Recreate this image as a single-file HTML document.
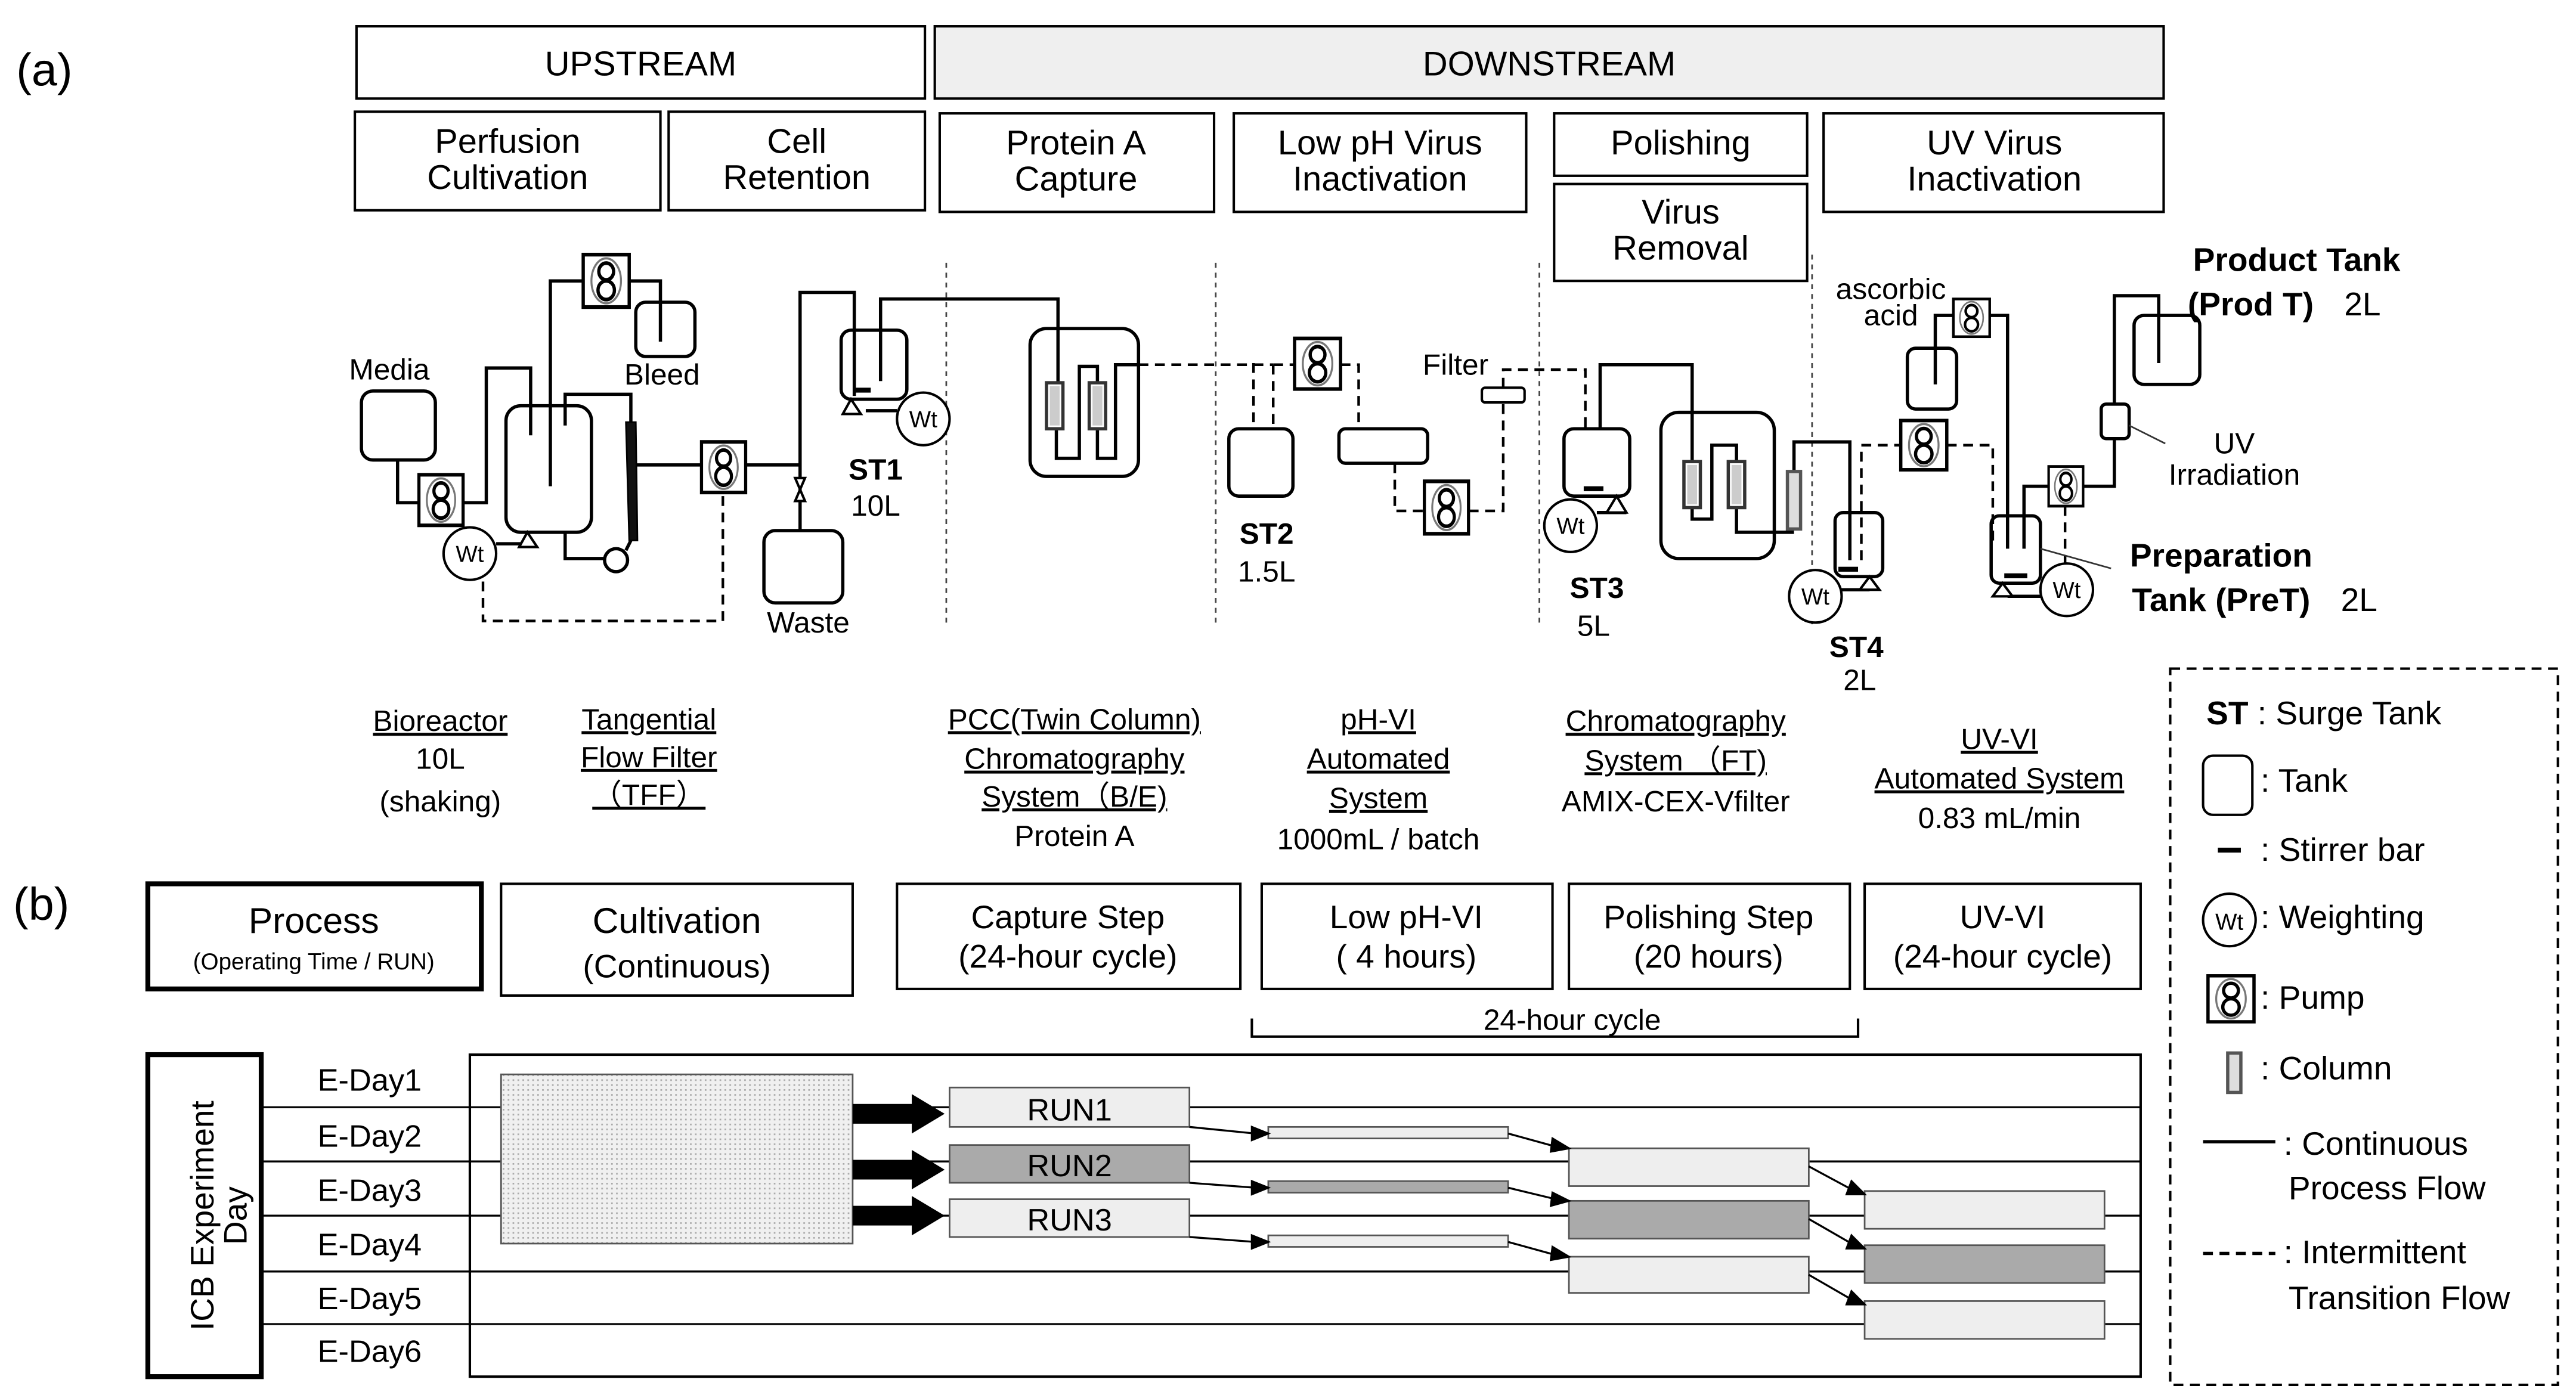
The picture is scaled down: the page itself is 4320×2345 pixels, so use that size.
<!DOCTYPE html>
<html><head><meta charset="utf-8"><style>html,body{margin:0;padding:0;background:#fff}svg{display:block}</style></head>
<body>
<svg width="4320" height="2345" viewBox="0 0 1568 851" preserveAspectRatio="none" xmlns="http://www.w3.org/2000/svg" font-family="Liberation Sans, Arial, sans-serif">
<defs>
<pattern id="dots" width="3" height="3" patternUnits="userSpaceOnUse"><rect width="3" height="3" fill="#f0f0f0"/><rect width="1" height="1" fill="#aaa"/></pattern>
<g id="pump"><rect x="0" y="0" width="28" height="28" fill="#fff" stroke="#000" stroke-width="2"/><ellipse cx="14" cy="14" rx="9" ry="12" fill="none" stroke="#777" stroke-width="1.2"/><circle cx="14" cy="9" r="4.5" fill="none" stroke="#000" stroke-width="2"/><circle cx="14" cy="19" r="5" fill="none" stroke="#000" stroke-width="2"/></g>
<g id="wt"><circle cx="0" cy="0" r="16" fill="#fff" stroke="#000" stroke-width="1.5"/><text x="0" y="5" font-size="14" text-anchor="middle">Wt</text></g>
<g id="col"><rect x="0" y="0" width="10" height="28" fill="#fff" stroke="#333" stroke-width="2"/><rect x="2" y="2" width="6" height="24" fill="#ccc"/></g>
</defs>
<rect width="1568" height="851" fill="#fff"/>
<g fill="none" stroke="#000" stroke-width="1.5">
<rect x="217" y="16" width="346" height="44"/>
<rect x="569" y="16" width="748" height="44" fill="#efefef"/>
<rect x="216" y="68" width="186" height="60"/>
<rect x="407" y="68" width="156" height="60"/>
<rect x="572" y="69" width="167" height="60"/>
<rect x="751" y="69" width="178" height="60"/>
<rect x="946" y="69" width="154" height="38"/>
<rect x="946" y="112" width="154" height="59"/>
<rect x="1110" y="69" width="207" height="60"/>
</g>
<g font-size="21" text-anchor="middle">
<text x="27" y="52" font-size="28">(a)</text>
<text x="390" y="46">UPSTREAM</text>
<text x="943" y="46">DOWNSTREAM</text>
<text x="309" y="93">Perfusion</text><text x="309" y="115">Cultivation</text>
<text x="485" y="93">Cell</text><text x="485" y="115">Retention</text>
<text x="655" y="94">Protein A</text><text x="655" y="116">Capture</text>
<text x="840" y="94">Low pH Virus</text><text x="840" y="116">Inactivation</text>
<text x="1023" y="94">Polishing</text>
<text x="1023" y="136">Virus</text><text x="1023" y="158">Removal</text>
<text x="1214" y="94">UV Virus</text><text x="1214" y="116">Inactivation</text>
</g>
<g stroke="#444" stroke-width="1" stroke-dasharray="3,3">
<line x1="576" y1="160" x2="576" y2="380"/><line x1="740" y1="160" x2="740" y2="380"/>
<line x1="937" y1="160" x2="937" y2="380"/><line x1="1103" y1="155" x2="1103" y2="380"/>
</g>
<!-- solid process lines -->
<g fill="none" stroke="#000" stroke-width="2">
<rect x="220" y="238" width="45" height="42" rx="7"/>
<rect x="308" y="247" width="52" height="77" rx="9"/>
<rect x="387" y="184" width="36" height="33" rx="6"/>
<rect x="465" y="323" width="48" height="44" rx="7"/>
<rect x="512" y="201" width="40" height="42" rx="6"/>
<rect x="627" y="200" width="66" height="90" rx="10"/>
<rect x="748" y="261" width="39" height="41" rx="6"/>
<rect x="815" y="261" width="54" height="21" rx="4"/>
<rect x="952" y="261" width="40" height="41" rx="6"/>
<rect x="1011" y="251" width="69" height="89" rx="11"/>
<rect x="1117" y="312" width="29" height="39" rx="5"/>
<rect x="1161" y="212" width="30" height="37" rx="5"/>
<rect x="1299" y="192" width="40" height="42" rx="6"/>
<rect x="1279" y="246" width="17" height="21" rx="3"/>
<rect x="1212" y="314" width="30" height="41" rx="5"/>
<polyline points="242,280 242,306 255,306"/>
<polyline points="282,306 296,306 296,224 323,224 323,265"/>
<polyline points="335,296 335,171 355,171"/><polyline points="383,171 402,171 402,208"/>
<polyline points="344,259 344,240 384,240 384,257"/>
<polyline points="344,324 344,340 368,340"/>
<line x1="384" y1="329" x2="381" y2="335"/>
<line x1="302" y1="331" x2="321" y2="331"/>
<line x1="387" y1="283" x2="427" y2="283"/><line x1="454" y1="283" x2="487" y2="283"/>
<polyline points="487,323 487,178 520,178 520,241"/>
<polyline points="536,232 536,182 644,182 644,233"/>
<line x1="527" y1="250" x2="546" y2="250"/>
<polyline points="643,262 643,279 657,279 657,223 668,223 668,233"/>
<polyline points="668,262 668,279 679,279 679,222 693,222"/>
<polyline points="974,261 974,222 1030,222 1030,281"/>
<polyline points="1030,303 1030,316 1042,316 1042,271 1057,271 1057,281"/>
<polyline points="1057,303 1057,324 1092,324"/>
<polyline points="1092,287 1092,269 1126,269 1126,341"/>
<line x1="972" y1="312" x2="990" y2="312"/>
<line x1="1121" y1="359" x2="1138" y2="359"/>
<line x1="1222" y1="363" x2="1242" y2="363"/>
<polyline points="1178,234 1178,192 1189,192"/><polyline points="1211,192 1222,192 1222,334"/>
<polyline points="1232,334 1232,296 1247,296"/><polyline points="1268,296 1287,296 1287,267"/>
<polyline points="1287,246 1287,180 1314,180 1314,221"/>
</g>
<polygon points="381,257 387,257 388,329 383,329" fill="#111" stroke="#000"/>
<circle cx="375" cy="341" r="7" fill="#fff" stroke="#000" stroke-width="2"/>
<rect x="1088" y="287" width="8" height="35" fill="#ddd" stroke="#555" stroke-width="2"/>
<g stroke="#000" stroke-width="1.5" fill="#fff">
<polygon points="321,324 316,333 327,333"/><polygon points="518,243 513,252 524,252"/>
<polygon points="984,302 978,312 990,312"/><polygon points="1138,351 1132,359 1144,359"/>
<polygon points="1219,355 1213,363 1225,363"/>
<polygon points="484,291 490,291 487,298"/><polygon points="484,305 490,305 487,298"/>
<rect x="902" y="236" width="26" height="9" rx="2"/>
</g>
<g fill="#000"><rect x="520" y="236" width="10" height="3"/><rect x="964" y="296" width="12" height="3"/><rect x="1119" y="345" width="12" height="3"/><rect x="1220" y="349" width="14" height="3"/></g>
<g fill="none" stroke="#000" stroke-width="1.6" stroke-dasharray="6,4">
<polyline points="294,354 294,378 440,378 440,300"/>
<line x1="693" y1="222" x2="775" y2="222"/>
<polyline points="763,221 763,261"/><polyline points="775,222 775,261"/>
<polyline points="775,222 788,222"/>
<polyline points="816,222 827,222 827,261"/>
<polyline points="849,282 849,311 867,311"/><polyline points="894,311 915,311 915,245"/>
<polyline points="915,236 915,225 965,225 965,261"/>
<polyline points="1133,341 1133,271 1157,271"/><polyline points="1185,271 1213,271 1213,330"/>
<polyline points="1257,308 1257,343"/>
</g>
<use href="#pump" transform="translate(255,289) scale(0.96,1.1)"/>
<use href="#pump" transform="translate(355,155) scale(1,1.14)"/>
<use href="#pump" transform="translate(427,269) scale(0.96,1.1)"/>
<use href="#pump" transform="translate(788,206) scale(1,1.1)"/>
<use href="#pump" transform="translate(867,293) scale(0.96,1.14)"/>
<use href="#pump" transform="translate(1189,182) scale(0.79,0.82)"/>
<use href="#pump" transform="translate(1157,256) scale(1,1.07)"/>
<use href="#pump" transform="translate(1247,284) scale(0.75,0.86)"/>
<use href="#col" x="637" y="233"/><use href="#col" x="663" y="233"/>
<use href="#col" x="1025" y="281" transform="translate(0,0)"/><use href="#col" x="1052" y="281"/>
<use href="#wt" x="286" y="337"/><use href="#wt" x="562" y="255"/><use href="#wt" x="956" y="320"/><use href="#wt" x="1105" y="363"/><use href="#wt" x="1258" y="359"/>
<line x1="1296" y1="259" x2="1318" y2="270" stroke="#333"/>
<line x1="1242" y1="334" x2="1285" y2="346" stroke="#333"/>
<g font-size="18" text-anchor="middle">
<text x="237" y="231">Media</text><text x="403" y="234">Bleed</text><text x="492" y="385">Waste</text>
<text x="533" y="292" font-weight="bold">ST1</text><text x="533" y="314">10L</text>
<text x="771" y="331" font-weight="bold">ST2</text><text x="771" y="354">1.5L</text>
<text x="886" y="228">Filter</text>
<text x="972" y="364" font-weight="bold">ST3</text><text x="970" y="387">5L</text>
<text x="1130" y="400" font-weight="bold">ST4</text><text x="1132" y="420">2L</text>
<text x="1151" y="182">ascorbic</text><text x="1151" y="198">acid</text>
<text x="1360" y="276">UV</text><text x="1360" y="295">Irradiation</text>
<text x="1398" y="165" font-weight="bold" font-size="20">Product Tank</text>
<text x="1370" y="192" font-weight="bold" font-size="20">(Prod T)</text><text x="1438" y="192" font-size="20">2L</text>
<text x="1352" y="345" font-weight="bold" font-size="20">Preparation</text>
<text x="1352" y="372" font-weight="bold" font-size="20">Tank (PreT)</text><text x="1436" y="372" font-size="20">2L</text>
</g>
<g font-size="18" text-anchor="middle">
<text x="268" y="445" text-decoration="underline">Bioreactor</text><text x="268" y="468">10L</text><text x="268" y="494">(shaking)</text>
<text x="395" y="444" text-decoration="underline">Tangential</text><text x="395" y="467" text-decoration="underline">Flow Filter</text><text x="395" y="490" text-decoration="underline">（TFF）</text>
<text x="654" y="444" text-decoration="underline">PCC(Twin Column)</text><text x="654" y="468" text-decoration="underline">Chromatography</text><text x="654" y="491" text-decoration="underline">System（B/E)</text><text x="654" y="515">Protein A</text>
<text x="839" y="444" text-decoration="underline">pH-VI</text><text x="839" y="468" text-decoration="underline">Automated</text><text x="839" y="492" text-decoration="underline">System</text><text x="839" y="517">1000mL / batch</text>
<text x="1020" y="445" text-decoration="underline">Chromatography</text><text x="1020" y="469" text-decoration="underline">System （FT)</text><text x="1020" y="494">AMIX-CEX-Vfilter</text>
<text x="1217" y="456" text-decoration="underline">UV-VI</text><text x="1217" y="480" text-decoration="underline">Automated System</text><text x="1217" y="504">0.83 mL/min</text>
</g>
<rect x="1321" y="407" width="236" height="436" fill="none" stroke="#000" stroke-width="1.5" stroke-dasharray="6,4"/>
<g font-size="20">
<text x="1343" y="441"><tspan font-weight="bold">ST</tspan> : Surge Tank</text>
<rect x="1341" y="460" width="30" height="36" rx="6" fill="none" stroke="#000" stroke-width="1.5"/><text x="1376" y="482">: Tank</text>
<rect x="1350" y="516" width="14" height="3" fill="#000"/><text x="1376" y="524">: Stirrer bar</text>
<circle cx="1357" cy="560" r="16" fill="none" stroke="#000" stroke-width="1.5"/><text x="1357" y="566" font-size="14" text-anchor="middle">Wt</text><text x="1376" y="565">: Weighting</text>
<use href="#pump" x="1344" y="594"/><text x="1376" y="614">: Pump</text>
<rect x="1356" y="641" width="8" height="24" fill="#ddd" stroke="#555" stroke-width="2"/><text x="1376" y="657">: Column</text>
<line x1="1341" y1="695" x2="1385" y2="695" stroke="#000" stroke-width="2"/><text x="1390" y="703">: Continuous</text><text x="1393" y="730">Process Flow</text>
<line x1="1341" y1="763" x2="1385" y2="763" stroke="#000" stroke-width="2" stroke-dasharray="6,4"/><text x="1390" y="769">: Intermittent</text><text x="1393" y="797">Transition Flow</text>
</g>
<text x="8" y="560" font-size="28">(b)</text>
<g fill="none" stroke="#000" stroke-width="1.5">
<rect x="90" y="538" width="203" height="64" stroke-width="3"/>
<rect x="305" y="538" width="214" height="68"/>
<rect x="546" y="538" width="209" height="64"/>
<rect x="768" y="538" width="177" height="64"/>
<rect x="955" y="538" width="171" height="64"/>
<rect x="1135" y="538" width="168" height="64"/>
<polyline points="762,620 762,631 1131,631 1131,620"/>
</g>
<g text-anchor="middle" font-size="20">
<text x="191" y="568" font-size="22">Process</text><text x="191" y="590" font-size="14">(Operating Time / RUN)</text>
<text x="412" y="568" font-size="22">Cultivation</text><text x="412" y="595">(Continuous)</text>
<text x="650" y="565">Capture Step</text><text x="650" y="589">(24-hour cycle)</text>
<text x="856" y="565">Low pH-VI</text><text x="856" y="589">( 4 hours)</text>
<text x="1040" y="565">Polishing Step</text><text x="1040" y="589">(20 hours)</text>
<text x="1219" y="565">UV-VI</text><text x="1219" y="589">(24-hour cycle)</text>
<text x="957" y="627" font-size="18">24-hour cycle</text>
</g>
<rect x="90" y="642" width="69" height="196" fill="none" stroke="#000" stroke-width="3"/>
<text transform="translate(130,740) rotate(-90)" font-size="20" text-anchor="middle">ICB Experiment</text>
<text transform="translate(150,740) rotate(-90)" font-size="20" text-anchor="middle">Day</text>
<rect x="286" y="642" width="1017" height="196" fill="none" stroke="#000" stroke-width="1.5"/>
<g stroke="#000" stroke-width="1.2">
<line x1="159" y1="674" x2="1303" y2="674"/><line x1="159" y1="707" x2="1303" y2="707"/>
<line x1="159" y1="740" x2="1303" y2="740"/><line x1="159" y1="774" x2="1303" y2="774"/>
<line x1="159" y1="806" x2="1303" y2="806"/>
</g>
<g font-size="19" text-anchor="middle">
<text x="225" y="664">E-Day1</text><text x="225" y="698">E-Day2</text><text x="225" y="731">E-Day3</text>
<text x="225" y="764">E-Day4</text><text x="225" y="797">E-Day5</text><text x="225" y="829">E-Day6</text>
</g>
<rect x="305" y="654" width="214" height="103" fill="url(#dots)" stroke="#555" stroke-width="1"/>
<g fill="#000">
<polygon points="519,672 555,672 555,666 575,678 555,690 555,684 519,684"/>
<polygon points="519,706 555,706 555,700 575,712 555,724 555,718 519,718"/>
<polygon points="519,734 555,734 555,728 575,740 555,752 555,746 519,746"/>
</g>
<g stroke="#555" stroke-width="1">
<rect x="578" y="662" width="146" height="24" fill="#eee"/><rect x="578" y="697" width="146" height="23" fill="#aaa"/><rect x="578" y="730" width="146" height="23" fill="#eee"/>
<rect x="772" y="686" width="146" height="7" fill="#eee"/><rect x="772" y="719" width="146" height="7" fill="#aaa"/><rect x="772" y="752" width="146" height="7" fill="#eee"/>
<rect x="955" y="699" width="146" height="23" fill="#eee"/><rect x="955" y="731" width="146" height="23" fill="#aaa"/><rect x="955" y="765" width="146" height="22" fill="#eee"/>
<rect x="1135" y="725" width="146" height="23" fill="#eee"/><rect x="1135" y="758" width="146" height="23" fill="#aaa"/><rect x="1135" y="792" width="146" height="23" fill="#eee"/>
</g>
<g font-size="19" text-anchor="middle"><text x="651" y="682">RUN1</text><text x="651" y="716">RUN2</text><text x="651" y="749">RUN3</text></g>
<g stroke="#000" stroke-width="1.2" fill="#000">
<line x1="724" y1="686" x2="764" y2="690"/><polygon points="772,690 762,686 762,694"/>
<line x1="724" y1="720" x2="764" y2="723"/><polygon points="772,723 762,719 762,727"/>
<line x1="724" y1="753" x2="764" y2="756"/><polygon points="772,756 762,752 762,760"/>
<line x1="918" y1="690" x2="947" y2="698"/><polygon points="955,699 945,693 944,701"/>
<line x1="918" y1="723" x2="947" y2="730"/><polygon points="955,731 945,726 944,734"/>
<line x1="918" y1="756" x2="947" y2="764"/><polygon points="955,765 945,759 944,767"/>
<line x1="1101" y1="710" x2="1127" y2="724"/><polygon points="1135,727 1127,719 1124,727"/>
<line x1="1101" y1="742" x2="1127" y2="757"/><polygon points="1135,760 1127,752 1124,760"/>
<line x1="1101" y1="776" x2="1127" y2="791"/><polygon points="1135,794 1127,786 1124,794"/>
</g>
</svg>
</body></html>
